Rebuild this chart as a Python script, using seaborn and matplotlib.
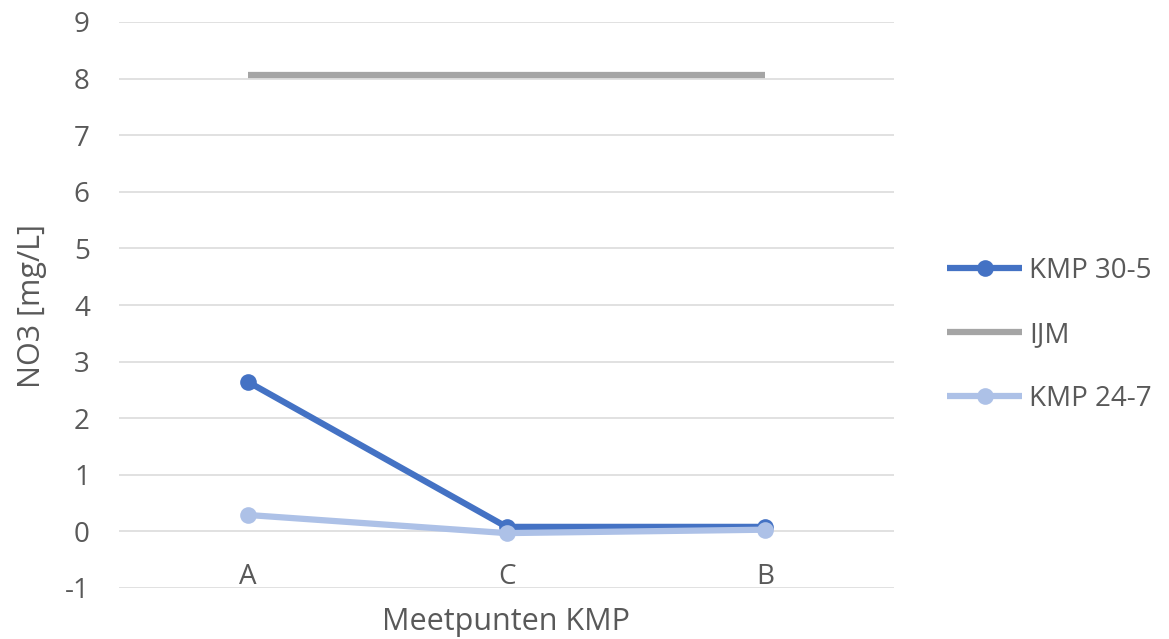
import matplotlib
matplotlib.use("Agg")
import matplotlib.pyplot as plt
import seaborn as sns
import pandas as pd

categories = ["A", "C", "B"]
kmp_30_5 = [2.64, 0.08, 0.08]
ijm = [8.06, 8.06, 8.06]
kmp_24_7 = [0.29, -0.03, 0.03]
series_names = ["KMP 30-5", "IJM", "KMP 24-7"]
y_ticks = [-1, 0, 1, 2, 3, 4, 5, 6, 7, 8, 9]

sns.set_theme(style="white")
plt.rcParams["font.family"] = ["Open Sans", "DejaVu Sans"]
plt.rcParams["axes.unicode_minus"] = False
TXT = "#595959"

fig = plt.figure(figsize=(11.69, 6.39), dpi=100)
ax = fig.add_axes([119 / 1169, 51 / 639, 775 / 1169, 566 / 639])

styles = {
    "KMP 30-5": dict(color="#4472C4", marker="o"),
    "IJM": dict(color="#A5A5A5", marker=None),
    "KMP 24-7": dict(color="#ADC1E7", marker="o"),
}
values = {"KMP 30-5": kmp_30_5, "IJM": ijm, "KMP 24-7": kmp_24_7}

for name in series_names:
    df = pd.DataFrame({"Meetpunt": categories, "NO3": values[name]})
    st = styles[name]
    kw = dict(marker=st["marker"], markersize=12, markeredgewidth=0) if st["marker"] else {}
    sns.lineplot(data=df, x="Meetpunt", y="NO3", sort=False, ax=ax,
                 color=st["color"], linewidth=4.5, label=name, zorder=3,
                 solid_capstyle="butt", **kw)

ax.set_xlim(-0.5, 2.5)
ax.set_ylim(-1, 9)
ax.set_yticks(y_ticks)
ax.grid(axis="y", color="#D9D9D9", linewidth=1.1, zorder=0)
ax.grid(axis="x", visible=False)
for s in ax.spines.values():
    s.set_visible(False)

ax.tick_params(axis="y", length=0, pad=21, labelsize=20, labelcolor=TXT)
ax.tick_params(axis="x", length=0, pad=-18, labelsize=20, labelcolor=TXT)

ax.set_xlabel("Meetpunten KMP", fontsize=22, color=TXT, va="center")
ax.xaxis.set_label_coords(0.5, -0.06)
ax.set_ylabel("NO3 [mg/L]", fontsize=22, color=TXT, va="center")
ax.yaxis.set_label_coords(-0.112, 0.498)

handles, labels = ax.get_legend_handles_labels()
ax.get_legend().remove()
fig.legend(handles, labels, loc="center left",
           bbox_to_anchor=(947 / 1169, 1 - 335 / 639),
           frameon=False, fontsize=20, labelcolor=TXT, borderpad=0,
           borderaxespad=0, handlelength=2.7, handletextpad=0.25,
           labelspacing=1.3)

fig.savefig("out.png", dpi=100)
